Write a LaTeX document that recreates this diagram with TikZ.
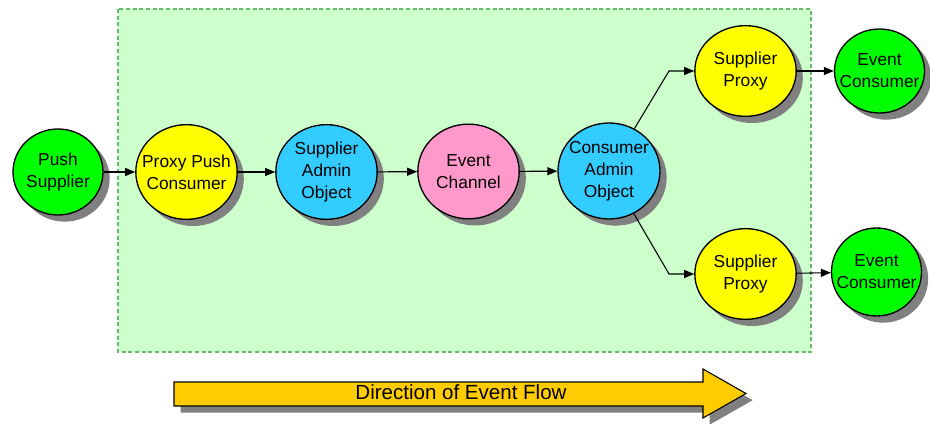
\documentclass[tikz,border=0pt]{standalone}
\usepackage{fontspec}
\setmainfont{Liberation Sans}
\usetikzlibrary{arrows.meta,positioning,shapes.geometric,shadows}

\definecolor{endgreen}{HTML}{00FF00}
\definecolor{proxyyellow}{HTML}{FFFF00}
\definecolor{adminblue}{HTML}{33CCFF}
\definecolor{channelpink}{HTML}{FF99CC}
\definecolor{areagreen}{HTML}{CCFFCC}
\definecolor{framegreen}{HTML}{66BB66}
\definecolor{flowgold}{HTML}{FFCC00}
\definecolor{shadowgray}{HTML}{808080}

\begin{document}
\begin{tikzpicture}[x=0.75pt,y=-0.75pt,
    obj/.style={ellipse,draw,line width=1pt,inner sep=-20pt,align=center,
      font=\fontsize{13}{16.5}\selectfont,
      drop shadow={shadow xshift=5pt,shadow yshift=-5pt,fill=shadowgray,opacity=1}},
    ends/.style={obj,fill=endgreen,minimum width=67.5pt,minimum height=64.5pt},
    mid/.style={obj,minimum width=76pt,minimum height=71pt},
    prox/.style={obj,fill=proxyyellow,minimum width=76pt,minimum height=68pt},
    link/.style={-{Triangle[length=7.5pt,width=6pt]},line width=0.8pt}]
        \useasboundingbox (0,0) rectangle (930,424);
        \draw[densely dashed,draw=framegreen,fill=areagreen,line width=0.8pt] (118,9) rectangle (811,352);

        \node[ends] (pushsup) at (58,172) {Push\\Supplier};
        \node[mid,fill=proxyyellow] (proxycons) at (186.5,172) {Proxy Push\\Consumer};
        \node[mid,fill=adminblue] (supadmin) at (326.5,172) {Supplier\\Admin\\Object};
        \node[mid,fill=channelpink] (channel) at (468.5,171.5) {Event\\Channel};
        \node[mid,fill=adminblue,minimum width=76.5pt,minimum height=72pt] (consadmin) at (609,171) {Consumer\\Admin\\Object};
        \node[prox] (supproxy1) at (745.5,71) {Supplier\\Proxy};
        \node[prox] (supproxy2) at (745.5,274) {Supplier\\Proxy};
        \node[ends,minimum height=63pt] (evcons1) at (879.5,71) {Event\\Consumer};
        \node[ends,minimum height=66pt] (evcons2) at (876.5,272) {Event\\Consumer};

        \coordinate (bend1) at (669,71);
        \coordinate (bend2) at (669,274);

        \draw[link] (pushsup) -- (proxycons);
        \draw[link] (proxycons) -- (supadmin);
        \draw[link] (supadmin) -- (channel);
        \draw[link] (channel) -- (consadmin);
        \draw[link] (consadmin) -- (bend1) -- (supproxy1.west);
        \draw[link] (consadmin) -- (bend2) -- (supproxy2.west);
        \draw[link] (supproxy1) -- (evcons1);
        \draw[link] (supproxy2) -- (evcons2);

        \draw[fill=flowgold,line width=0.8pt,drop shadow={shadow xshift=5pt,shadow yshift=-5pt,fill=shadowgray,opacity=1}]
          (174,382) -- (703,382) -- (703,369) -- (746,393.5) -- (703,418) -- (703,406) -- (174,406) -- cycle;
        \node[font=\fontsize{15.4}{18}\selectfont] (flowlabel) at (461,392) {Direction of Event Flow};
      \end{tikzpicture}
\end{document}
